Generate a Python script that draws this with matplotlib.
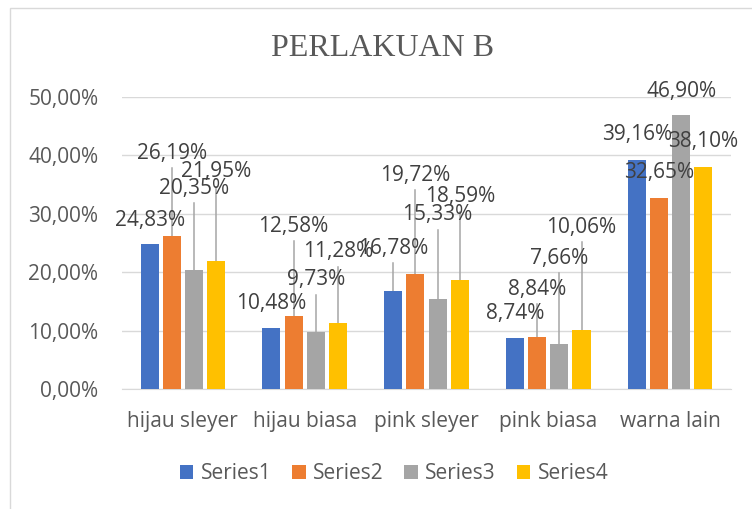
import matplotlib
matplotlib.use('Agg')
import matplotlib.pyplot as plt
from matplotlib.patches import Rectangle
import numpy as np

categories = ['hijau sleyer', 'hijau biasa', 'pink sleyer', 'pink biasa', 'warna lain']
series_names = ['Series1', 'Series2', 'Series3', 'Series4']
series1 = [24.83, 10.48, 16.78, 8.74, 39.16]
series2 = [26.19, 12.58, 19.72, 8.84, 32.65]
series3 = [20.35, 9.73, 15.33, 7.66, 46.90]
series4 = [21.95, 11.28, 18.59, 10.06, 38.10]

# label heights (in %) where the data labels were dragged to
label_y1 = [28.9, 14.7, 24.1, 13.0, 43.5]
label_y2 = [40.4, 27.9, 36.6, 17.1, 37.0]
label_y3 = [34.4, 18.7, 29.8, 22.4, 51.0]
label_y4 = [37.2, 23.5, 32.9, 27.7, 42.3]

colors = ['#4472C4', '#ED7D31', '#A5A5A5', '#FFC000']
text_col = '#595959'
label_col = '#404040'
grid_col = '#D9D9D9'

plt.rcParams['font.family'] = ['Open Sans', 'DejaVu Sans']
fs = 15

fig = plt.figure(figsize=(7.52, 5.09), dpi=100)
ax = fig.add_axes([0.1622, 0.2358, 0.8098, 0.5736])

# chart border (only top/left visible in the crop)
fig.patches.append(Rectangle((10 / 752, -0.1), 1.2, 1 - 8 / 509 + 0.1, transform=fig.transFigure,
                             fill=False, edgecolor=grid_col, lw=1.0))

x = np.arange(len(categories))
step = 0.182
width = 0.148
all_series = [series1, series2, series3, series4]
all_labels = [label_y1, label_y2, label_y3, label_y4]

for i in range(4):
    pos = x + (i - 1.5) * step
    ax.bar(pos, all_series[i], width, color=colors[i], label=series_names[i], zorder=3)
    for j in range(len(categories)):
        v = all_series[i][j]
        ly = all_labels[i][j]
        top = ly - 2.6
        if top - v > 2:
            ax.plot([pos[j], pos[j]], [v, top], color='#A6A6A6', lw=1.1, zorder=2)
        ax.text(pos[j], ly, ('%.2f' % v).replace('.', ',') + '%', ha='center', va='center',
                fontsize=fs, color=label_col, zorder=4, clip_on=False)

ax.set_xlim(-0.5, 4.5)
ax.set_ylim(0, 50)
ax.set_yticks(np.arange(0, 51, 10))
ax.set_yticklabels([('%.2f' % t).replace('.', ',') + '%' for t in np.arange(0, 51, 10)])
ax.set_xticks(x)
ax.set_xticklabels(categories)
ax.tick_params(axis='both', length=0, labelsize=fs, colors=text_col)
ax.tick_params(axis='y', pad=17)
ax.tick_params(axis='x', pad=16)
ax.grid(axis='y', color=grid_col, lw=1.0, zorder=0)
for s in ['top', 'right', 'left']:
    ax.spines[s].set_visible(False)
ax.spines['bottom'].set_color(grid_col)
ax.spines['bottom'].set_zorder(1)

fig.text(0.509, 0.905, 'PERLAKUAN B', ha='center', va='center', fontsize=23,
         family='Liberation Serif', color=text_col)

leg = fig.legend(loc='center', bbox_to_anchor=(0.524, 0.069), ncol=4, frameon=False,
                 fontsize=fs, handlelength=0.65, handleheight=0.65, handletextpad=0.35,
                 columnspacing=1.0, labelcolor=text_col)

fig.savefig('out.png', dpi=100)
